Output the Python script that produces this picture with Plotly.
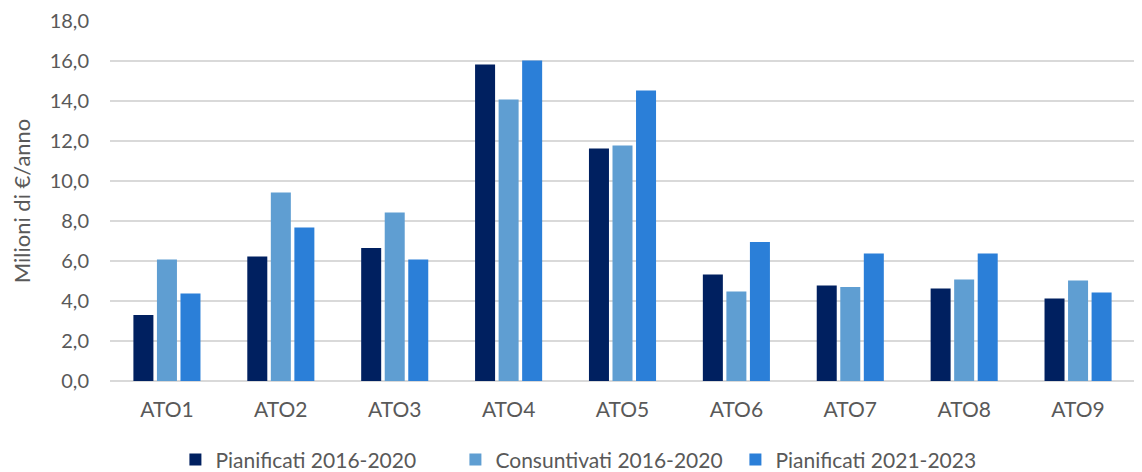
import plotly.graph_objects as go

categories = ["ATO1", "ATO2", "ATO3", "ATO4", "ATO5", "ATO6", "ATO7", "ATO8", "ATO9"]
pianificati_2016_2020 = [3.3, 6.22, 6.65, 15.83, 11.62, 5.33, 4.77, 4.62, 4.12]
consuntivati_2016_2020 = [6.07, 9.43, 8.43, 14.08, 11.78, 4.48, 4.7, 5.08, 5.02]
pianificati_2021_2023 = [4.38, 7.67, 6.07, 16.03, 14.53, 6.95, 6.38, 6.37, 4.42]

series_names = ["Pianificati 2016-2020", "Consuntivati 2016-2020", "Pianificati 2021-2023"]
colors = ["#002060", "#5F9ED2", "#2B7FD8"]
tick_vals = [0, 2, 4, 6, 8, 10, 12, 14, 16, 18]

fig = go.Figure()
for name, vals, col in zip(series_names,
                           [pianificati_2016_2020, consuntivati_2016_2020, pianificati_2021_2023],
                           colors):
    fig.add_trace(go.Bar(x=categories, y=vals, name=name,
                         marker=dict(color=col, line=dict(width=0))))

fig.update_layout(
    width=1134, height=464,
    margin=dict(l=102, r=7, t=13, b=91, autoexpand=False),
    paper_bgcolor="white", plot_bgcolor="white",
    barmode="group", bargap=0.38, bargroupgap=0.15,
    separators=",.",
    font=dict(family="Lato", color="#595959", size=20),
    showlegend=True,
    legend=dict(orientation="h", xref="container", x=0.518, xanchor="center",
                y=-0.219, yanchor="middle",
                entrywidth=235, entrywidthmode="pixels",
                font=dict(size=21, color="#595959"), traceorder="normal"),
    xaxis=dict(showgrid=False, showline=False, ticks="", tickfont=dict(size=21),
               ticklabelstandoff=14, automargin=False),
    yaxis=dict(range=[0, 18], tickvals=tick_vals, tickformat=".1f",
               showgrid=True, gridcolor="#D9D9D9", gridwidth=2,
               zeroline=True, zerolinecolor="#D9D9D9", zerolinewidth=2,
               showline=False, ticks="", tickfont=dict(size=20),
               ticklabelstandoff=20, automargin=False,
               title=dict(text="Milioni di €/anno", font=dict(size=22), standoff=14)),
)

fig.write_html("out.html")
